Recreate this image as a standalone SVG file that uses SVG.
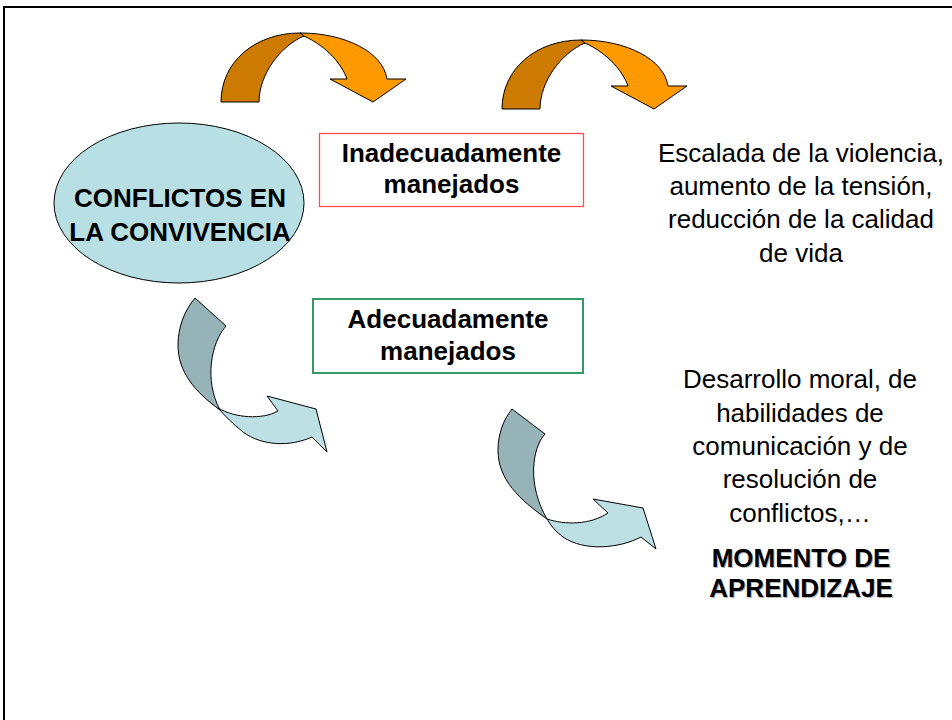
<svg xmlns="http://www.w3.org/2000/svg" xmlns:xlink="http://www.w3.org/1999/xlink" width="952" height="720" viewBox="0 0 952 720">
<style>
.b{font-family:"Liberation Sans",Arial,sans-serif;font-weight:bold;font-size:26px;fill:#000;text-anchor:middle}
.r{font-family:"Liberation Sans",Arial,sans-serif;font-size:26px;fill:#000;text-anchor:middle}
.sh{fill:#b4b4b4}
.od{fill:#CC7A00;stroke:#000;stroke-width:1}
.ol{fill:#FF9900;stroke:#000;stroke-width:1}
.td{fill:#96B4B8;stroke:#000;stroke-width:1}
.tl{fill:#BCE0E3;stroke:#000;stroke-width:1}
</style>
<defs>
<g id="orangeArrow">
<path class="od" d="M221,102 C221,62 255,33 300,33 Q302,34 304,36 C280,46 259,75 259,102 Z"/>
<path class="ol" d="M300,33 C345,33 383,52 387,79 L406,79 L373,102 L330,79 L347,79 C342,65 328,47 304,36 Q302,34 300,33 Z"/>
</g>
</defs>
<rect width="952" height="720" fill="#fff"/>
<rect x="4" y="7" width="960" height="730" fill="none" stroke="#000" stroke-width="2"/>

<g id="connectors">
<use id="arrow-top-1" xlink:href="#orangeArrow"/>
<use id="arrow-top-2" xlink:href="#orangeArrow" transform="translate(281,7)"/>
<g id="arrow-low-1">
<path class="td" d="M195,298 L226,326 C211,343 204,380 220,410 C195,392 178,372 178,345 C178,328 184,311 195,298 Z"/>
<path class="tl" d="M218,408 C235,418 262,420 278,411 L267,396 L316,409 L327,452 L312,437 C290,447 262,446 243,432 C233,424 225,416 218,408 Z"/>
</g>
<g id="arrow-low-2">
<path class="td" d="M512,409 L545,434 C532,448 527,485 547,519 C520,500 498,480 498,450 C498,435 503,420 512,409 Z"/>
<path class="tl" d="M547,519 C565,525 590,525 608,513 L593,499 L643,508 L656,549 L641,537 C620,548 585,552 563,537 C556,532 551,526 547,519 Z"/>
</g>
</g>

<g id="node-conflictos">
<ellipse cx="179" cy="203" rx="125" ry="80" fill="#B8DFE3" stroke="#000" stroke-width="1"/>
<text class="b" x="180" y="207">CONFLICTOS EN</text>
<text class="b" x="180" y="241">LA CONVIVENCIA</text>
</g>

<g id="node-inadecuadamente">
<rect x="319.5" y="133.5" width="264" height="73" fill="#fff" stroke="#FF4D4D" stroke-width="1.3"/>
<text class="b" x="451.5" y="162">Inadecuadamente</text>
<text class="b" x="451.5" y="193">manejados</text>
</g>

<g id="node-adecuadamente">
<rect x="313" y="299" width="270" height="74" fill="#fff" stroke="#339966" stroke-width="2"/>
<text class="b" x="448" y="328">Adecuadamente</text>
<text class="b" x="448" y="360">manejados</text>
</g>

<g id="node-escalada">
<text class="r" x="801" y="162">Escalada de la violencia,</text>
<text class="r" x="801" y="195">aumento de la tensión,</text>
<text class="r" x="801" y="228">reducción de la calidad</text>
<text class="r" x="801" y="262">de vida</text>
</g>

<g id="node-desarrollo">
<text class="r" x="800" y="388">Desarrollo moral, de</text>
<text class="r" x="800" y="422">habilidades de</text>
<text class="r" x="800" y="455">comunicación y de</text>
<text class="r" x="800" y="488">resolución de</text>
<text class="r" x="800" y="522">conflictos,…</text>
</g>

<g id="node-momento">
<text class="b sh" x="802" y="568">MOMENTO DE</text>
<text class="b sh" x="802" y="598">APRENDIZAJE</text>
<text class="b" x="801" y="567">MOMENTO DE</text>
<text class="b" x="801" y="597">APRENDIZAJE</text>
</g>
</svg>
